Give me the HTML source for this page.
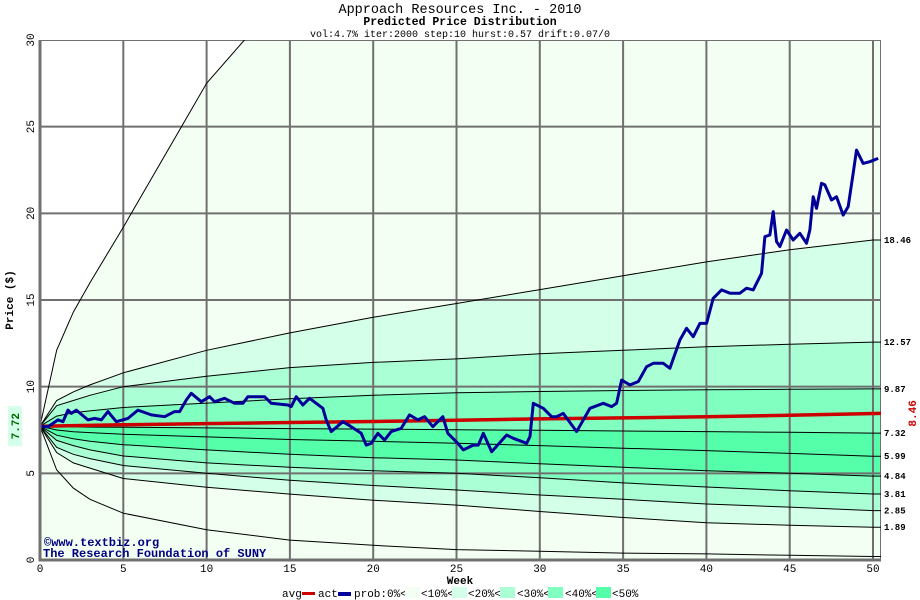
<!DOCTYPE html>
<html><head><meta charset="utf-8"><style>
body{margin:0;background:#fff;width:920px;height:600px;overflow:hidden}
svg{display:block}
text{font-family:"Liberation Mono","DejaVu Sans Mono",monospace}
</style></head><body>
<svg id="chart" width="920" height="600" viewBox="0 0 920 600">
<text x="460" y="13" text-anchor="middle" font-size="13.5">Approach Resources Inc. - 2010</text>
<text x="460" y="25" text-anchor="middle" font-size="11.5" font-weight="bold">Predicted Price Distribution</text>
<text x="460" y="37" text-anchor="middle" font-size="10">vol:4.7% iter:2000 step:10 hurst:0.57 drift:0.07/0</text>
<text x="460" y="584" text-anchor="middle" font-size="11" font-weight="bold">Week</text>
<text transform="translate(13,300) rotate(-90)" text-anchor="middle" font-size="11" font-weight="bold">Price ($)</text>
<g id="plot"></g>
<g font-size="11">
<text x="282" y="597">avg</text>
<rect x="302" y="592" width="13" height="3" fill="#cc0000"/>
<text x="318" y="597">act</text>
<rect x="338" y="592" width="13" height="4" fill="#000099"/>
<text x="354" y="597">prob:0%&lt;</text>
<rect x="405" y="587" width="15" height="11" fill="#f3fff3"/>
<text x="421" y="597">&lt;10%&lt;</text>
<rect x="452" y="587" width="15" height="11" fill="#d4ffe8"/>
<text x="468" y="597">&lt;20%&lt;</text>
<rect x="500" y="587" width="15" height="11" fill="#aaffd4"/>
<text x="517" y="597">&lt;30%&lt;</text>
<rect x="548" y="587" width="15" height="11" fill="#80ffc0"/>
<text x="565" y="597">&lt;40%&lt;</text>
<rect x="596" y="587" width="15" height="11" fill="#55ffaa"/>
<text x="612" y="597">&lt;50%</text>
</g>
</svg>
<script>
const weeks=[0,1,2,3,5,10,15,20,25,30,35,40,45,50];
const up0=[7.72,12.1,14.3,16.0,19.2,27.5,33,38,43,47,51,55,59,63];
const p90=[7.72,9.2,9.7,10.1,10.8,12.1,13.1,14.0,14.8,15.6,16.4,17.2,17.9,18.46];
const p80=[7.72,8.9,9.2,9.5,10.0,10.6,11.1,11.4,11.6,11.9,12.1,12.3,12.45,12.57];
const p70=[7.72,8.3,8.5,8.6,8.8,9.05,9.3,9.5,9.65,9.72,9.78,9.82,9.85,9.87];
const p60=[7.72,7.7,7.68,7.67,7.66,7.62,7.58,7.55,7.52,7.48,7.44,7.41,7.37,7.32];
const p50=[7.72,7.5,7.4,7.35,7.25,7.1,6.95,6.85,6.73,6.6,6.45,6.31,6.15,5.99];
const p40=[7.72,7.2,7.0,6.85,6.65,6.35,6.1,5.9,5.77,5.55,5.35,5.15,5.0,4.84];
const p30=[7.72,6.9,6.6,6.35,6.0,5.6,5.35,5.15,5.0,4.75,4.45,4.21,4.0,3.81];
const p20=[7.72,6.5,6.1,5.85,5.45,5.0,4.6,4.3,4.04,3.75,3.5,3.23,3.05,2.85];
const p10=[7.72,6.2,5.6,5.3,4.7,4.2,3.8,3.45,3.17,2.8,2.45,2.15,2.0,1.89];
const low=[7.72,5.2,4.15,3.5,2.7,1.75,1.15,0.85,0.6,0.5,0.4,0.35,0.27,0.2];
const endLabels=["18.46","12.57","9.87","7.32","5.99","4.84","3.81","2.85","1.89"];
const avgWeeks=[0,5,10,15,20,25,30,35,40,45,50.5];
const avgVals=[7.72,7.8,7.87,7.93,7.99,8.06,8.14,8.2,8.27,8.35,8.46];
const actWeeks=[0,0.48,1.08,1.38,1.68,1.88,2.18,2.88,3.28,3.68,4.08,4.58,5.28,5.88,6.68,7.48,8.08,8.38,8.78,9.08,9.68,10.18,10.48,11.08,11.68,12.18,12.48,13.48,13.88,14.88,15.08,15.38,15.78,16.18,16.98,17.18,17.48,18.18,18.68,19.28,19.58,19.88,20.28,20.68,21.08,21.68,22.18,22.68,23.08,23.58,24.18,24.48,25.08,25.41,26.01,26.31,26.61,27.11,28.01,28.41,29.21,29.41,29.61,30.21,30.71,31.01,31.41,32.21,33.01,33.81,34.31,34.61,34.91,35.41,35.91,36.41,36.81,37.41,37.81,38.41,38.81,39.21,39.61,40.01,40.41,40.91,41.41,42.01,42.41,42.81,43.31,43.51,43.81,44.01,44.21,44.41,44.81,45.21,45.61,46.01,46.21,46.41,46.61,46.91,47.11,47.51,47.81,48.21,48.51,48.81,49.01,49.41,49.81,50.31];
const actVals=[7.72,7.69,8.08,7.98,8.65,8.46,8.65,8.08,8.17,8.08,8.56,7.98,8.17,8.65,8.37,8.27,8.56,8.56,9.23,9.62,9.13,9.42,9.13,9.33,9.04,9.04,9.42,9.42,9.04,8.94,8.85,9.42,8.94,9.33,8.75,8.08,7.41,7.98,7.69,7.31,6.63,6.73,7.31,6.92,7.41,7.60,8.37,8.08,8.27,7.69,8.27,7.31,6.73,6.35,6.63,6.63,7.31,6.25,7.21,7.02,6.73,7.12,9.04,8.75,8.27,8.27,8.46,7.41,8.75,9.04,8.85,9.04,10.38,10.10,10.29,11.15,11.35,11.35,11.06,12.69,13.37,12.88,13.65,13.65,15.1,15.58,15.39,15.39,15.68,15.58,16.54,18.65,18.75,20.1,18.37,18.08,19.04,18.46,18.85,18.27,19.04,20.96,20.29,21.73,21.64,20.77,20.96,19.90,20.39,22.31,23.65,22.88,22.98,23.17];
const xTicks=[0,5,10,15,20,25,30,35,40,45,50];
const yTicks=[0,5,10,15,20,25,30];

const X0=40,X1=881,Y0=560,Y1=40;
const xs=w=>X0+w*(873-X0)/50;
const ys=v=>Y0-v*(Y0-Y1)/30;
const NS='http://www.w3.org/2000/svg';
const plot=document.getElementById('plot');
function mk(tag,attrs,parent){const e=document.createElementNS(NS,tag);for(const k in attrs)e.setAttribute(k,attrs[k]);(parent||plot).appendChild(e);return e;}
const defs=mk('defs',{});
const cp=mk('clipPath',{id:'clip'},defs);
mk('rect',{x:X0,y:Y1,width:X1-X0,height:Y0-Y1},cp);
const g=mk('g',{'clip-path':'url(#clip)'});


mk('rect',{x:X0,y:Y1,width:X1-X0,height:Y0-Y1,fill:'#ffffff'},g);
function pts(wa,va){return wa.map((w,i)=>xs(Math.min(w,50.6))+','+ys(va[i]).toFixed(1));}
function ext(a){return a.concat([a[a.length-1]]);}
const W=weeks.concat([50.6]);
const bands=[[up0,p90,'#f3fff3'],[p90,p80,'#d4ffe8'],[p80,p70,'#aaffd4'],[p70,p60,'#80ffc0'],[p60,p40,'#55ffaa'],[p40,p30,'#80ffc0'],[p30,p20,'#aaffd4'],[p20,p10,'#d4ffe8'],[p10,low,'#f3fff3'],[low,weeks.map(()=>-1),'#f3fff3']];
bands.forEach((b,i)=>{
  const a=pts(W,ext(b[0])),c=pts(W,ext(b[1])).reverse();
  const p=mk('polygon',{points:a.concat(c).join(' '),fill:b[2]},g);
  
  
});
xTicks.forEach(t=>{const l=mk('line',{x1:xs(t),x2:xs(t),y1:Y1,y2:Y0,stroke:'#707070','stroke-width':2},g);
  
  });
yTicks.forEach(t=>{const l=mk('line',{x1:X0,x2:X1,y1:ys(t),y2:ys(t),stroke:'#707070','stroke-width':2},g);
  
  });
mk('line',{x1:X1,x2:X1,y1:Y1,y2:Y0,stroke:'#707070','stroke-width':2},g);
[up0,p90,p80,p70,p60,p50,p40,p30,p20,p10,low].forEach((c,i)=>{
  const l=mk('polyline',{points:pts(W,ext(c)).join(' '),fill:'none',stroke:'#000','stroke-width':1},g);
  
  
});
const av=mk('polyline',{points:pts(avgWeeks,avgVals).join(' '),fill:'none',stroke:'#cc0000','stroke-width':3.5},g);


const ac=mk('polyline',{points:pts(actWeeks,actVals).join(' '),fill:'none',stroke:'#000099','stroke-width':3,'stroke-linejoin':'round'},g);


const wm1=mk('text',{x:44,y:546,'font-size':12,'font-weight':'bold',fill:'#000080'},g);
wm1.textContent='©www.textbiz.org';


const wm2=mk('text',{x:43,y:557,'font-size':12,'font-weight':'bold',fill:'#000080'},g);
wm2.textContent='The Research Foundation of SUNY';


const ax=mk('polyline',{points:`${X0},${Y1} ${X0},${Y0} ${X1},${Y0}`,fill:'none',stroke:'#707070','stroke-width':3});


xTicks.forEach(t=>{const e=mk('text',{x:xs(t),y:572,'text-anchor':'middle','font-size':11});e.textContent=t;
  
  });
yTicks.forEach(t=>{const e=mk('text',{transform:`translate(34,${ys(t)}) rotate(-90)`,'text-anchor':'middle','font-size':11});e.textContent=t;
  
  });
[p90,p80,p70,p60,p50,p40,p30,p20,p10].forEach((c,i)=>{
  const e=mk('text',{x:884,y:ys(c[c.length-1])+3,'font-size':9,'font-weight':'bold'});
  e.textContent=endLabels[i];
  
  
});
const sy=ys(avgVals[0]);
const bg=mk('rect',{x:8,y:sy-20,width:14,height:40,fill:'#d4ffe8'});


const st=mk('text',{transform:`translate(19,${sy}) rotate(-90)`,'text-anchor':'middle','font-size':11,'font-weight':'bold',fill:'#006600'});
st.textContent=avgVals[0].toFixed(2);


const ay=ys(avgVals[avgVals.length-1]);
const en=mk('text',{transform:`translate(916,${ay}) rotate(-90)`,'text-anchor':'middle','font-size':11,'font-weight':'bold',fill:'#cc0000'});
en.textContent=avgVals[avgVals.length-1].toFixed(2);


</script>
</body></html>
